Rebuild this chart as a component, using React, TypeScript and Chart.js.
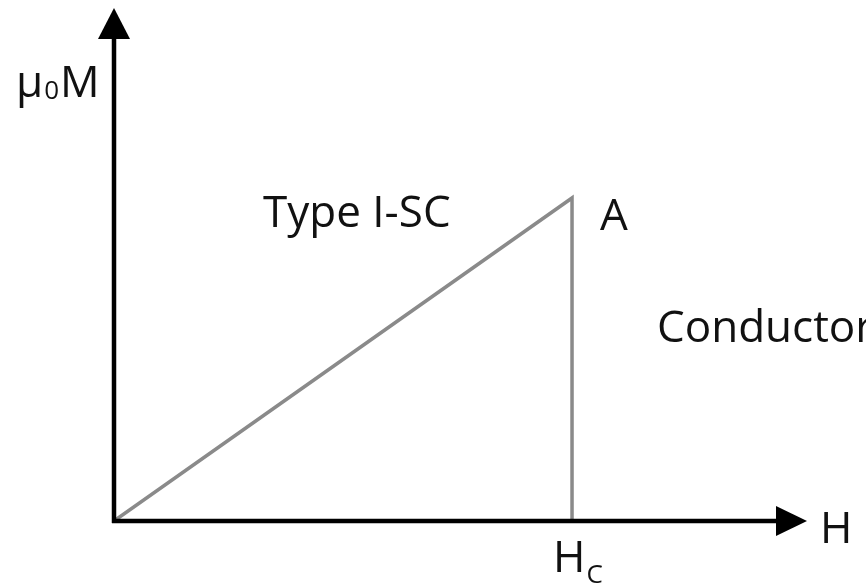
import React, { useEffect, useRef } from "react";
import { Chart, registerables } from "chart.js";

Chart.register(...registerables);

// Data (field H in units of Hc, magnetisation μ0M in units of μ0Hc)
const curveH = [0, 1, 1];
const curveM = [0, 1, 0];
const axisMaxH = 1.513;
const axisMaxM = 1.588;
const axisTitleX = "H";
const axisTitleY = "μ0M";
const criticalLabel = "H";
const criticalSub = "C";
const regionLabels = ["Type I-SC", "A", "Conductor"];

const FONT = '"Open Sans", "Noto Sans", sans-serif';

const axesPlugin = {
  id: "customAxes",
  afterDatasetsDraw(chart: any) {
    const ctx = chart.ctx as CanvasRenderingContext2D;
    const xs = chart.scales.x;
    const ys = chart.scales.y;
    const x0 = xs.getPixelForValue(0);
    const y0 = ys.getPixelForValue(0);
    const xEnd = xs.getPixelForValue(axisMaxH);
    const yEnd = ys.getPixelForValue(axisMaxM);
    const xc = xs.getPixelForValue(1);
    const ya = ys.getPixelForValue(1);
    ctx.save();
    ctx.strokeStyle = "#000";
    ctx.fillStyle = "#000";
    ctx.lineWidth = 4.5;
    ctx.lineCap = "butt";
    // x axis
    ctx.beginPath();
    ctx.moveTo(x0 - 2, y0);
    ctx.lineTo(xEnd - 25, y0);
    ctx.stroke();
    ctx.beginPath();
    ctx.moveTo(xEnd, y0);
    ctx.lineTo(xEnd - 31, y0 - 15);
    ctx.lineTo(xEnd - 31, y0 + 15);
    ctx.closePath();
    ctx.fill();
    // y axis
    ctx.beginPath();
    ctx.moveTo(x0, y0 + 2);
    ctx.lineTo(x0, yEnd + 25);
    ctx.stroke();
    ctx.beginPath();
    ctx.moveTo(x0, yEnd);
    ctx.lineTo(x0 - 16, yEnd + 31);
    ctx.lineTo(x0 + 16, yEnd + 31);
    ctx.closePath();
    ctx.fill();

    // texts
    ctx.fillStyle = "#111";
    ctx.textBaseline = "alphabetic";
    ctx.textAlign = "left";
    const big = `44px ${FONT}`;
    const small = `26px ${FONT}`;
    ctx.font = big;
    // axis title x
    ctx.fillText(axisTitleX, xEnd + 13, y0 + 22);
    // y title μ0M
    const yt = axisTitleY;
    let tx = 16;
    const tb = 97;
    ctx.fillText(yt[0], tx, tb);
    tx += ctx.measureText(yt[0]).width;
    ctx.font = small;
    ctx.fillText(yt[1], tx + 1, tb + 2);
    tx += ctx.measureText(yt[1]).width + 2;
    ctx.font = big;
    ctx.fillText(yt.slice(2), tx, tb);
    // Hc label
    ctx.fillText(criticalLabel, xc - 19, y0 + 51);
    const hw = ctx.measureText(criticalLabel).width;
    ctx.font = small;
    ctx.fillText(criticalSub, xc - 19 + hw + 1, y0 + 62);
    ctx.font = big;
    // region labels
    ctx.fillText(regionLabels[0], 263, ya + 29);
    ctx.fillText(regionLabels[1], xc + 28, ya + 32);
    ctx.fillText(regionLabels[2], 657, y0 - 179);
    ctx.restore();
  },
};

export default function App() {
  const ref = useRef<HTMLCanvasElement | null>(null);
  useEffect(() => {
    if (!ref.current) return;
    const chart = new Chart(ref.current, {
      type: "scatter",
      data: {
        datasets: [
          {
            data: curveH.map((h, i) => ({ x: h, y: curveM[i] })),
            showLine: true,
            borderColor: "#8a8a8a",
            borderWidth: 3.5,
            pointRadius: 0,
            fill: false,
            tension: 0,
          },
        ],
      },
      options: {
        animation: false,
        responsive: false,
        maintainAspectRatio: false,
        layout: { padding: { left: 114, right: 59, top: 8, bottom: 62 } },
        plugins: { legend: { display: false }, tooltip: { enabled: false } },
        scales: {
          x: { type: "linear", min: 0, max: axisMaxH, display: false },
          y: { type: "linear", min: 0, max: axisMaxM, display: false },
        },
      },
      plugins: [axesPlugin],
    });
    return () => chart.destroy();
  }, []);
  return (
    <div style={{ position: "fixed", left: 0, top: 0, width: 866, height: 583, background: "#fff" }}>
      <canvas ref={ref} width={866} height={583} style={{ width: 866, height: 583 }} />
    </div>
  );
}
